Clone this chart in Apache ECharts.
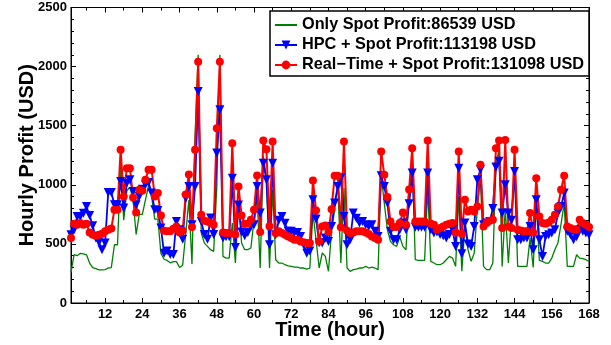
<!DOCTYPE html>
<html>
<head>
<meta charset="utf-8">
<script src="https://cdn.jsdelivr.net/npm/echarts@6/dist/echarts.min.js"></script>
<style>
  html, body { margin: 0; padding: 0; background: #fff; }
  #chart { width: 611px; height: 345px; }
</style>
</head>
<body>
<div id="chart"></div>
<script>
// hourly profit, hours 1..168
const onlySpot = [
  260, 410, 400, 420, 415, 408, 338, 300, 290, 280, 280, 282,
  296, 300, 493, 493, 1180, 700, 950, 980, 873, 580, 750, 750,
  873, 990, 900, 710, 710, 420, 370, 360, 340, 350, 350, 300,
  320, 590, 870, 330, 1408, 2100, 592, 507, 479, 451, 437, 986,
  2100, 394, 380, 380, 676, 338, 845, 507, 451, 451, 465, 704,
  901, 296, 1240, 1070, 296, 958, 366, 338, 338, 324, 315, 310,
  304, 304, 296, 296, 287, 296, 761, 535, 296, 423, 394, 268,
  606, 789, 1000, 338, 972, 296, 268, 282, 287, 296, 296, 310,
  296, 304, 296, 282, 1084, 845, 620, 521, 493, 479, 560, 479,
  451, 930, 1211, 366, 360, 360, 360, 972, 352, 338, 324, 324,
  338, 366, 394, 380, 310, 901, 268, 648, 451, 352, 423, 800,
  1070, 310, 282, 282, 338, 1170, 1300, 310, 800, 338, 730, 1110,
  310, 310, 310, 310, 550, 300, 840, 360, 352, 338, 338, 380,
  450, 510, 670, 845, 310, 310, 310, 408, 380, 375, 366, 352
];
const hpcSpot = [
  577, 620, 732, 732, 760, 817, 740, 653, 549, 513, 450, 507,
  935, 935, 831, 831, 1028, 803, 1014, 1042, 944, 831, 901, 963,
  1000, 1020, 930, 789, 783, 634, 420, 440, 410, 410, 690, 620,
  540, 887, 986, 662, 986, 1789, 690, 580, 540, 720, 580, 1268,
  1634, 550, 560, 560, 1056, 470, 830, 600, 570, 597, 648, 662,
  986, 761, 1183, 1042, 493, 1183, 577, 700, 732, 675, 606, 606,
  592, 597, 563, 493, 420, 440, 873, 710, 510, 507, 550, 521,
  648, 845, 986, 1060, 732, 493, 535, 761, 718, 676, 690, 662,
  648, 662, 606, 563, 1076, 986, 845, 606, 535, 535, 620, 676,
  620, 840, 1100, 640, 640, 640, 640, 1099, 620, 592, 600, 580,
  570, 549, 580, 620, 479, 1141, 417, 676, 500, 479, 648, 1042,
  1127, 662, 676, 690, 800, 1150, 1200, 761, 1000, 761, 700, 1113,
  535, 535, 549, 549, 648, 451, 873, 535, 394, 563, 577, 592,
  620, 761, 817, 930, 606, 577, 535, 560, 620, 606, 592, 577
];
const realTimeSpot = [
  549, 670, 662, 676, 662, 670, 597, 577, 569, 577, 586, 606,
  620, 631, 789, 789, 1296, 901, 1141, 1141, 893, 766, 958, 949,
  1042, 1127, 1127, 901, 930, 741, 611, 606, 606, 628, 648, 597,
  611, 918, 1087, 642, 1296, 2042, 746, 696, 690, 676, 662, 1479,
  2042, 597, 592, 592, 1352, 580, 986, 741, 670, 670, 704, 789,
  1079, 600, 1375, 1301, 650, 1366, 590, 606, 592, 577, 563, 549,
  535, 535, 521, 513, 507, 507, 1037, 783, 520, 648, 655, 600,
  794, 1076, 1076, 640, 1366, 611, 592, 597, 606, 606, 606, 597,
  583, 563, 549, 535, 1282, 1084, 896, 690, 642, 642, 676, 766,
  662, 960, 1310, 690, 690, 690, 690, 1375, 670, 662, 620, 634,
  648, 662, 670, 676, 597, 1282, 583, 873, 775, 789, 775, 817,
  1169, 648, 676, 696, 704, 1310, 1375, 634, 1380, 648, 634, 1296,
  620, 614, 606, 606, 761, 597, 1056, 732, 676, 670, 682, 704,
  746, 817, 958, 1076, 648, 634, 625, 620, 704, 676, 662, 642
];
const seriesNames = [
  'Only Spot Profit:86539 USD',
  'HPC + Spot Profit:113198 USD',
  'Real\u2212Time + Spot Profit:131098 USD'
];
const xTicks = [12, 24, 36, 48, 60, 72, 84, 96, 108, 120, 132, 144, 156, 168];
const xMinorTicks = [6, 18, 30, 42, 54, 66, 78, 90, 102, 114, 126, 138, 150, 162];

const font = 'Liberation Sans, Arial, Helvetica, sans-serif';
const black = '#000';
const toPairs = (vals) => vals.map((v, i) => [i + 1, v]);

const chart = echarts.init(document.getElementById('chart'));

// x axes: main bottom, top mirror, then minor ticks on both sides
const xBase = { type: 'value', min: 1, max: 168, splitLine: { show: false } };
const xAxes = [
  {
    ...xBase, position: 'bottom',
    name: 'Time (hour)', nameLocation: 'middle', nameGap: 17, nameMoveOverlap: false,
    nameTextStyle: { fontFamily: font, fontSize: 20, fontWeight: 'bold', color: black },
    axisLine: { show: true, onZero: false, lineStyle: { color: black, width: 1 } },
    axisTick: { show: true, inside: true, length: 5, customValues: xTicks, lineStyle: { color: black } },
    axisLabel: { customValues: xTicks, margin: 5, fontFamily: font, fontSize: 13, fontWeight: 'bold', color: black },
  },
  {
    ...xBase, position: 'top',
    axisLine: { show: true, onZero: false, lineStyle: { color: black, width: 1 } },
    axisTick: { show: true, inside: true, length: 5, customValues: xTicks, lineStyle: { color: black } },
    axisLabel: { show: false },
  },
  {
    ...xBase, position: 'bottom',
    axisLine: { show: false, onZero: false },
    axisTick: { show: true, inside: true, length: 3, customValues: xMinorTicks, lineStyle: { color: black } },
    axisLabel: { show: false },
  },
  {
    ...xBase, position: 'top',
    axisLine: { show: false, onZero: false },
    axisTick: { show: true, inside: true, length: 3, customValues: xMinorTicks, lineStyle: { color: black } },
    axisLabel: { show: false },
  },
];

const yBase = {
  type: 'value', min: 0, max: 2500, interval: 500,
  splitLine: { show: false }, minorSplitLine: { show: false },
  axisLine: { show: true, onZero: false, lineStyle: { color: black, width: 1 } },
  axisTick: { show: true, inside: true, length: 5, lineStyle: { color: black } },
  minorTick: { show: true, splitNumber: 5, length: 3, lineStyle: { color: black } },
};

const hideIcon = { color: 'rgba(0,0,0,0)', borderColor: 'rgba(0,0,0,0)', borderWidth: 0 };

chart.setOption({
  animation: false,
  backgroundColor: '#fff',
  grid: {
    left: 71, right: 22, top: 7.5, bottom: 42,
    show: true, borderColor: black, borderWidth: 1,
    outerBoundsMode: 'none',
  },
  legend: {
    data: [
      { name: seriesNames[0], itemStyle: hideIcon },
      { name: seriesNames[1] },
      { name: seriesNames[2] },
    ],
    orient: 'vertical', left: 270, top: 11,
    padding: [6, 5, 3, 4], itemGap: 4, itemWidth: 22, itemHeight: 11,
    backgroundColor: '#fff', borderColor: black, borderWidth: 1.5,
    textStyle: { fontFamily: font, fontSize: 16.3, fontWeight: 'bold', color: black },
  },
  xAxis: xAxes,
  yAxis: [
    {
      ...yBase, position: 'left',
      name: 'Hourly Profit (USD)', nameLocation: 'middle', nameGap: 34, nameRotate: 90, nameMoveOverlap: false,
      nameTextStyle: { fontFamily: font, fontSize: 20, fontWeight: 'bold', color: black },
      axisLabel: { margin: 4, fontFamily: font, fontSize: 13, fontWeight: 'bold', color: black, formatter: (v) => String(v) },
    },
    { ...yBase, position: 'right', axisLabel: { show: false } },
  ],
  series: [
    {
      name: seriesNames[0], type: 'line', data: toPairs(onlySpot),
      symbol: 'none', clip: false,
      lineStyle: { color: '#008000', width: 1.3 },
      itemStyle: { color: '#008000' },
    },
    {
      name: seriesNames[1], type: 'line', data: toPairs(hpcSpot),
      symbol: 'triangle', symbolRotate: 180, symbolSize: 9, showAllSymbol: true, clip: false,
      lineStyle: { color: '#0000ff', width: 1.8 },
      itemStyle: { color: '#0000ff' },
    },
    {
      name: seriesNames[2], type: 'line', data: toPairs(realTimeSpot),
      symbol: 'circle', symbolSize: 8, showAllSymbol: true, clip: false,
      lineStyle: { color: '#ff0000', width: 2 },
      itemStyle: { color: '#ff0000' },
    },
  ],
});
</script>
</body>
</html>
